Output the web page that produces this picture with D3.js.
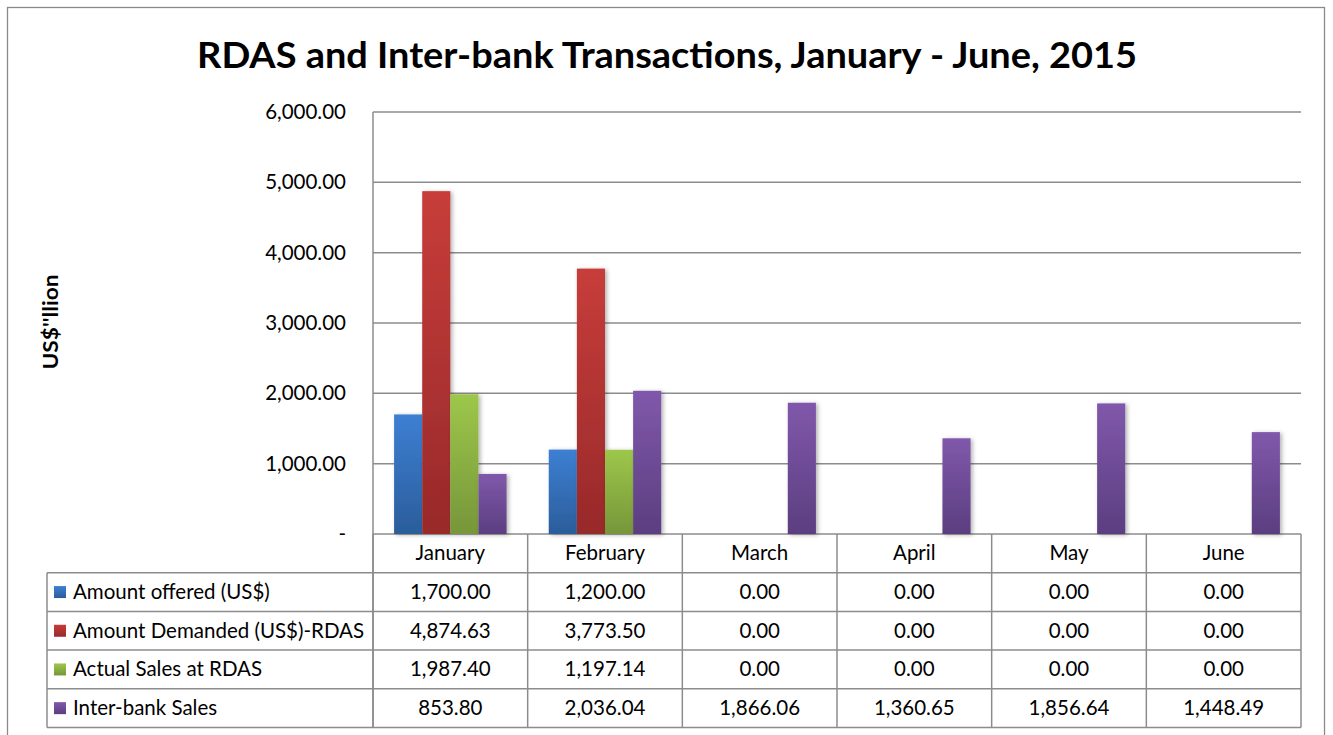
<!DOCTYPE html>
<html>
<head>
<meta charset="utf-8">
<script src="https://cdn.jsdelivr.net/npm/d3@7"></script>
<style>
  body { margin: 0; background: #fff; }
  text { font-family: Lato, "Open Sans", sans-serif; fill: #000; }
</style>
</head>
<body>
<svg id="chart" width="1333" height="735"></svg>
<script>
const months = ["January", "February", "March", "April", "May", "June"];
const seriesNames = [
  "Amount offered (US$)",
  "Amount Demanded (US$)-RDAS",
  "Actual Sales at RDAS",
  "Inter-bank Sales"
];
const amountOffered = [1700.0, 1200.0, 0, 0, 0, 0];
const amountDemanded = [4874.63, 3773.5, 0, 0, 0, 0];
const actualSales = [1987.4, 1197.14, 0, 0, 0, 0];
const interbankSales = [853.8, 2036.04, 1866.06, 1360.65, 1856.64, 1448.49];
const yTicks = [0, 1000, 2000, 3000, 4000, 5000, 6000];

const seriesValues = [amountOffered, amountDemanded, actualSales, interbankSales];
const colors = [
  ["#3d7fd3", "#2b5d9b"],
  ["#c73d3a", "#98292a"],
  ["#9dc74a", "#76963a"],
  ["#8058ab", "#5b3e80"]
];

const svg = d3.select("#chart");
const plot = { left: 373, right: 1301, top: 112, bottom: 534 };
const rowH = 38.7;
const tableLeft = 47;
const fontSize = "20.5px";

// outer border
svg.append("rect")
  .attr("x", 7.5).attr("y", 7.5)
  .attr("width", 1317).attr("height", 740)
  .attr("fill", "none").attr("stroke", "#8a8a8a").attr("stroke-width", 1.3);

// gradients + shadow
const defs = svg.append("defs");
colors.forEach((c, i) => {
  const g = defs.append("linearGradient")
    .attr("id", `grad${i}`).attr("x1", 0).attr("y1", 0).attr("x2", 0).attr("y2", 1);
  g.append("stop").attr("offset", "0%").attr("stop-color", c[0]);
  g.append("stop").attr("offset", "100%").attr("stop-color", c[1]);
});
defs.append("filter").attr("id", "shadow")
  .attr("x", "-30%").attr("y", "-10%").attr("width", "160%").attr("height", "120%")
  .append("feDropShadow")
  .attr("dx", 2).attr("dy", 1).attr("stdDeviation", 2)
  .attr("flood-color", "#000").attr("flood-opacity", 0.3);

// title
svg.append("text")
  .attr("x", 667).attr("y", 68)
  .attr("text-anchor", "middle")
  .attr("textLength", 940).attr("lengthAdjust", "spacingAndGlyphs")
  .style("font-size", "36px").style("font-weight", "bold")
  .text("RDAS and Inter-bank Transactions, January - June, 2015");

// y axis title
svg.append("text")
  .attr("transform", "translate(58,322) rotate(-90)")
  .attr("text-anchor", "middle")
  .attr("textLength", 95).attr("lengthAdjust", "spacingAndGlyphs")
  .style("font-size", "20px").style("font-weight", "bold")
  .text("US$''llion");

const x = d3.scaleBand().domain(months).range([plot.left, plot.right]);
const bw = x.bandwidth();
const barW = bw / 5.5;
const xSeries = d3.scaleBand()
  .domain(seriesNames)
  .range([(bw - 4 * barW) / 2, (bw + 4 * barW) / 2]);

const y = d3.scaleLinear().domain([0, 6000]).range([plot.bottom, plot.top]);

// gridlines
svg.append("g")
  .selectAll("line")
  .data(yTicks)
  .join("line")
  .attr("x1", plot.left).attr("x2", plot.right)
  .attr("y1", (d) => y(d)).attr("y2", (d) => y(d))
  .attr("stroke", "#8c8c8c").attr("stroke-width", 1.5);

// y axis line
svg.append("line")
  .attr("x1", plot.left).attr("x2", plot.left)
  .attr("y1", plot.top).attr("y2", plot.bottom + rowH * 5)
  .attr("stroke", "#8c8c8c").attr("stroke-width", 1.5);

// y tick labels
const yAxis = d3.axisLeft(y)
  .tickValues(yTicks)
  .tickSize(0)
  .tickPadding(27)
  .tickFormat((d) => (d === 0 ? "-" : d3.format(",.2f")(d)));
svg.append("g")
  .attr("transform", `translate(${plot.left},0)`)
  .call(yAxis)
  .call((g) => g.select(".domain").remove())
  .call((g) => g.selectAll("text")
    .style("font-size", fontSize).style("font-family", "Lato, sans-serif").attr("fill", "#000"));

// bars
seriesValues.forEach((vals, si) => {
  svg.append("g")
    .attr("filter", "url(#shadow)")
    .selectAll("rect")
    .data(months.map((m, i) => ({ month: m, value: vals[i] })).filter((d) => d.value > 0))
    .join("rect")
    .attr("x", (d) => x(d.month) + xSeries(seriesNames[si]))
    .attr("y", (d) => y(d.value))
    .attr("width", xSeries.bandwidth())
    .attr("height", (d) => y(0) - y(d.value))
    .attr("fill", `url(#grad${si})`);
});

// data table
const table = svg.append("g");
const gridColor = "#8c8c8c";
const colEdges = months.map((m) => x(m)).concat([plot.right]);
colEdges.forEach((cx) => {
  table.append("line")
    .attr("x1", cx).attr("x2", cx)
    .attr("y1", plot.bottom).attr("y2", plot.bottom + rowH * 5)
    .attr("stroke", gridColor).attr("stroke-width", 1.5);
});
d3.range(1, 6).forEach((r) => {
  table.append("line")
    .attr("x1", tableLeft).attr("x2", plot.right)
    .attr("y1", plot.bottom + rowH * r).attr("y2", plot.bottom + rowH * r)
    .attr("stroke", gridColor).attr("stroke-width", 1.5);
});
table.append("line")
  .attr("x1", tableLeft).attr("x2", tableLeft)
  .attr("y1", plot.bottom + rowH).attr("y2", plot.bottom + rowH * 5)
  .attr("stroke", gridColor).attr("stroke-width", 1.5);

// month labels
table.selectAll(".month")
  .data(months)
  .join("text")
  .attr("x", (d) => x(d) + bw / 2)
  .attr("y", plot.bottom + rowH / 2 + 7)
  .attr("text-anchor", "middle")
  .style("font-size", fontSize)
  .text((d) => d);

// series rows
seriesNames.forEach((name, si) => {
  const rowY = plot.bottom + rowH * (si + 1);
  table.append("rect")
    .attr("x", 54).attr("y", rowY + rowH / 2 - 6)
    .attr("width", 12).attr("height", 12)
    .attr("fill", `url(#grad${si})`);
  table.append("text")
    .attr("x", 73).attr("y", rowY + rowH / 2 + 7)
    .style("font-size", fontSize)
    .text(name);
  table.selectAll(`.v${si}`)
    .data(seriesValues[si])
    .join("text")
    .attr("x", (d, i) => x(months[i]) + bw / 2)
    .attr("y", rowY + rowH / 2 + 7)
    .attr("text-anchor", "middle")
    .style("font-size", fontSize)
    .text((d) => d3.format(",.2f")(d));
});
</script>
</body>
</html>
